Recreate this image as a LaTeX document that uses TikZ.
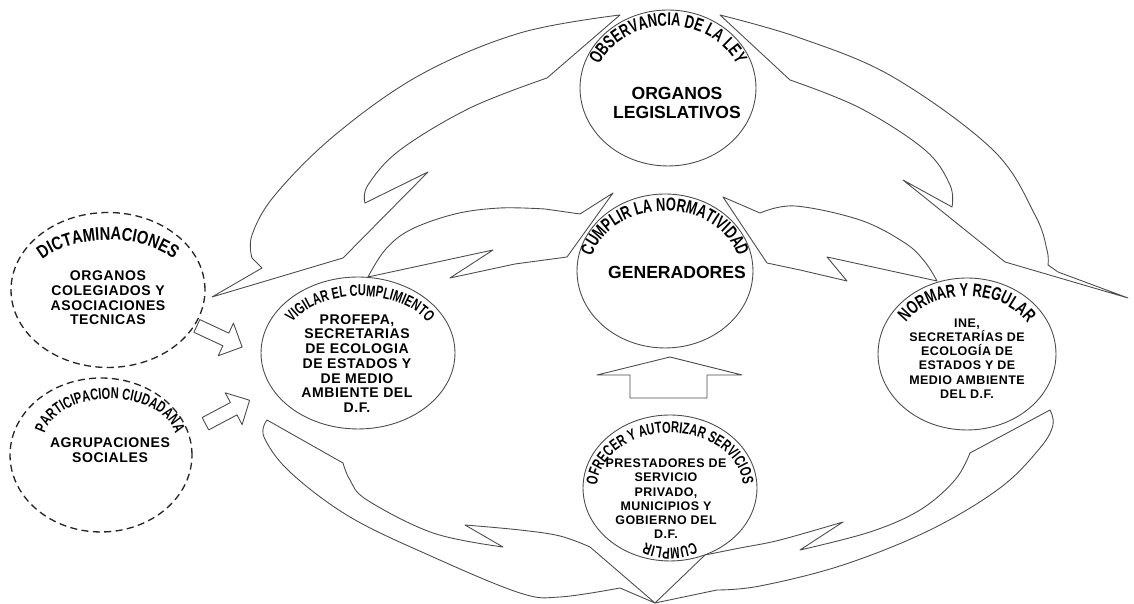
\documentclass[tikz,border=0pt]{standalone}
\usepackage{fontspec}
\setmainfont{Liberation Sans}
\newfontfamily\titlefont{Liberation Sans Bold}[FakeStretch=0.7]
\newfontfamily\titlewide{Liberation Sans Bold}[FakeStretch=0.8]
\newfontfamily\bodyfont{Liberation Sans}[LetterSpace=4]
\usetikzlibrary{shapes.geometric}
\usetikzlibrary{decorations.text}

\newcommand{\ttlbig}{\fontsize{10.5}{12}\titlefont}
\newcommand{\ttlwide}{\fontsize{10.5}{12}\titlewide}
\newcommand{\ttlsmall}{\fontsize{9}{10}\titlefont}
\newcommand{\bodynormal}{\fontsize{8}{8.4}\bodyfont\bfseries}
\newcommand{\bodytight}{\fontsize{7.1}{8.1}\bodyfont\bfseries}
\newcommand{\bodylarge}{\fontsize{10}{10.3}\selectfont\bfseries}

\tikzset{
  band/.style={draw=black!70, line width=0.5pt, fill=white, line join=round},
  bubble/.style={ellipse, draw=black!70, line width=0.5pt, fill=white, inner sep=0pt},
  dashbubble/.style={bubble, draw=black!85, line width=0.75pt, dash pattern=on 4pt off 2.5pt},
  bodytext/.style={align=center, inner sep=0pt, font=\bodynormal},
  arctitle/.style={decorate, decoration={text along path, text align=center, text={#1}}},
  pics/fatarrow/.style={code={
    \draw[band] (-25,-7) -- (7,-7) -- (7,-18) -- (25,0) -- (7,18) -- (7,7) -- (-25,7) -- cycle;
  }}
}

\begin{document}
\begin{tikzpicture}[x=0.02cm,y=0.02cm]
  \path[use as bounding box, fill=white] (0,0) rectangle (1134,604);

  % outer ring of curved arrows
  \draw[band] (620,589) -- plot[smooth,tension=.6] coordinates {(620,589) (520,571) (420,529) (335,469) (275,409) (252,369) (252,346)}
    -- (262,336) -- (212,307) -- (343,346) -- (428,432) -- (365,401)
    -- plot[smooth,tension=.6] coordinates {(365,401) (368,419) (400,454) (470,496) (547,526)} -- cycle;
  \draw[band] (720,589) -- plot[smooth,tension=.6] coordinates {(720,589) (800,566) (893,527) (993,454) (1035,389) (1047,354) (1048,339)}
    -- (1058,332) -- (1128,306) -- (1005,342) -- (903,424) -- (952,397)
    -- plot[smooth,tension=.6] coordinates {(952,397) (950,419) (925,454) (860,496) (790,524)} -- cycle;
  \draw[band] (267,184) -- (343,141)
    -- plot[smooth,tension=.6] coordinates {(343,141) (350,124) (367,104) (433,71) (503,57)} -- (465,79)
    -- plot[smooth,tension=.6] coordinates {(465,79) (520,74) (560,68) (590,57)} -- (655,1) -- (620,16)
    -- plot[smooth,tension=.6] coordinates {(620,16) (560,7) (520,11) (433,47) (350,87) (290,132) (264,167) (267,184)} -- cycle;
  \draw[band] (1050,194) -- (970,151)
    -- plot[smooth,tension=.6] coordinates {(970,151) (955,124) (920,94) (870,72) (800,54)} -- (843,82)
    -- plot[smooth,tension=.6] coordinates {(843,82) (780,64) (740,56) (705,49)} -- (655,1) -- (717,14)
    -- plot[smooth,tension=.6] coordinates {(717,14) (760,18) (843,39) (930,74) (1000,116) (1040,156) (1053,179) (1050,194)} -- cycle;

  % inner arrows
  \draw[band] (368,327) -- plot[smooth,tension=.6] coordinates {(368,327) (385,354) (410,374) (455,390) (500,396) (545,395)}
    -- (580,390) -- (613,411) -- (567,347) -- (515,340) -- (450,326) -- (493,354) -- cycle;
  \draw[band] (723,407) -- (760,391)
    -- plot[smooth,tension=.6] coordinates {(760,391) (795,398) (860,384) (905,361) (925,342) (937,323)}
    -- (827,347) -- (847,323) -- (800,334) -- (767,341) -- cycle;
  \draw[band] (630,206) -- (630,229) -- (597,229) -- (670,247) -- (742,229) -- (707,229) -- (707,206) -- cycle;
  \pic[rotate=-25] at (219.5,267.5) {fatarrow};
  \pic[rotate=28] at (227.5,192) {fatarrow};

  % circles
  \node[dashbubble, minimum width=3.88cm, minimum height=3.1cm] (dict) at (108,314) {};
  \node[dashbubble, minimum width=3.64cm, minimum height=3.08cm] (part) at (101,149) {};
  \node[bubble, minimum width=3.88cm, minimum height=3.04cm] (vig) at (358,251) {};
  \node[bubble, minimum width=3.52cm, minimum height=3.12cm] (obs) at (668,516) {};
  \node[bubble, minimum width=3.52cm, minimum height=3.08cm] (cump) at (665,333) {};
  \node[bubble, minimum width=3.56cm, minimum height=3.04cm] (norm) at (967,250) {};
  \node[bubble, minimum width=3.48cm, minimum height=2.92cm] (ofr) at (670,116) {};

  % contents
  \node[bodytext] (dicttxt) at (108,306) {ORGANOS\\COLEGIADOS Y\\ASOCIACIONES\\TECNICAS};
  \node[bodytext] (parttxt) at (110,153.5) {AGRUPACIONES\\SOCIALES};
  \node[bodytext] (vigtxt) at (357,240.5) {PROFEPA,\\SECRETARIAS\\DE ECOLOGIA\\DE ESTADOS Y\\DE MEDIO\\AMBIENTE DEL\\D.F.};
  \node[bodytext, font=\bodylarge] (obstxt) at (677,501) {ORGANOS\\LEGISLATIVOS};
  \node[bodytext, font=\bodylarge] (cumptxt) at (677,332) {GENERADORES};
  \node[bodytext, font=\bodytight] (normtxt) at (967,245.5) {INE,\\SECRETARÍAS DE\\ECOLOGÍA DE\\ESTADOS Y DE\\MEDIO AMBIENTE\\DEL D.F.};
  \node[bodytext, font=\bodytight] (ofrtxt) at (666,105) {PRESTADORES DE\\SERVICIO\\PRIVADO,\\MUNICIPIOS Y\\GOBIERNO DEL\\D.F.};

  % titles along the rims
  \path[arctitle={|\ttlwide|DICTAMINACIONES}] ([shift={(200:80 and 45)}]108,319) arc[start angle=200, end angle=-20, x radius=80, y radius=45];
  \path[arctitle={|\ttlsmall|PARTICIPACION CIUDADANA}] ([shift={(210:66 and 41)}]110,164) arc[start angle=210, end angle=-30, x radius=66, y radius=41];
  \path[arctitle={|\ttlsmall|VIGILAR EL CUMPLIMIENTO}] ([shift={(210:76 and 49)}]360,259) arc[start angle=210, end angle=-30, x radius=76, y radius=49];
  \path[arctitle={|\ttlbig|OBSERVANCIA DE LA LEY}] ([shift={(210:74 and 62)}]668,516) arc[start angle=210, end angle=-30, x radius=74, y radius=62];
  \path[arctitle={|\ttlbig|CUMPLIR LA NORMATIVIDAD}] ([shift={(210:75 and 60)}]665,333) arc[start angle=210, end angle=-30, x radius=75, y radius=60];
  \path[arctitle={|\ttlbig|NORMAR Y REGULAR}] ([shift={(210:72 and 58)}]967,250) arc[start angle=210, end angle=-30, x radius=72, y radius=58];
  \path[arctitle={|\ttlsmall|OFRECER Y AUTORIZAR SERVICIOS}] ([shift={(215:73 and 55)}]670,116) arc[start angle=215, end angle=-35, x radius=73, y radius=55];
  \path[arctitle={|\ttlsmall|CUMPLIR}] ([shift={(-20:60 and 60)}]670,116) arc[start angle=-20, end angle=-160, x radius=60, y radius=60];
\end{tikzpicture}
\end{document}
